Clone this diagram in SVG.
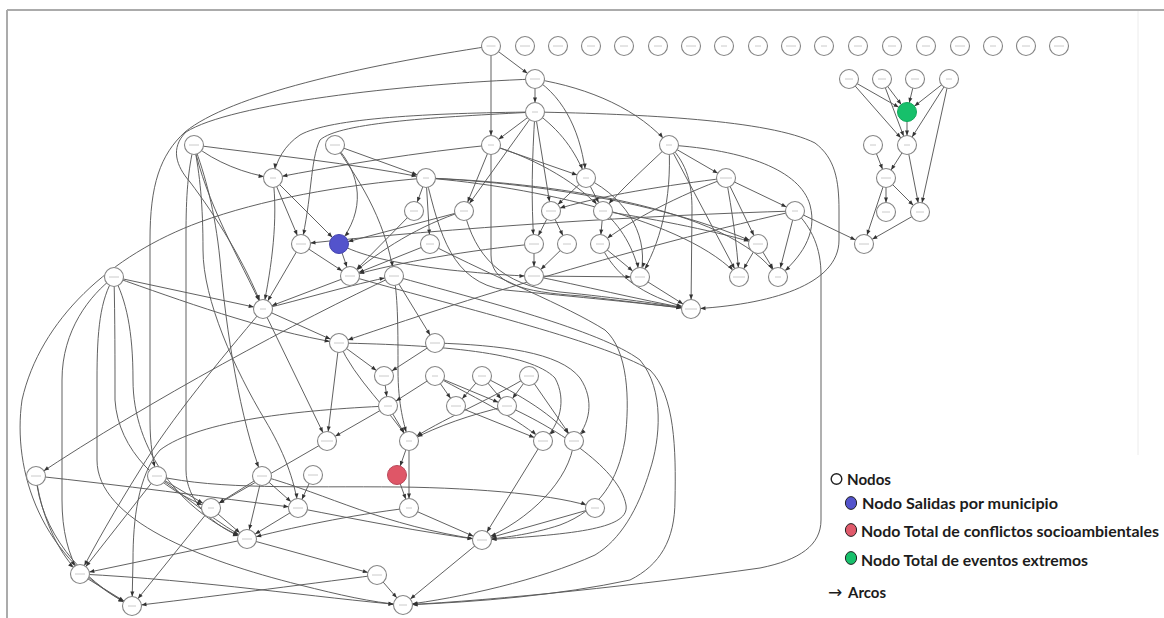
<svg xmlns="http://www.w3.org/2000/svg" width="1164" height="618" viewBox="0 0 1164 618">
<defs>
<style>
.e{fill:none;stroke:#585858;stroke-width:0.95;marker-end:url(#ah)}
.n circle{fill:#fff;stroke:#858585;stroke-width:1.1}
.n line{stroke:#c4c4c4;stroke-width:0.9}
.lg{font-family:Lato,'Liberation Sans',sans-serif;font-weight:700;font-size:15.5px;fill:#1c1c1c}
.frame{stroke:#ababab;stroke-width:2}
</style>
<marker id="ah" markerUnits="userSpaceOnUse" markerWidth="20" markerHeight="10" viewBox="0 -5 20 10" refX="19.5" refY="0" orient="auto">
<path d="M5,-2 L10,0 L5,2 Z" fill="#333"/>
</marker>
</defs>
<rect width="1164" height="618" fill="#fff"/>
<!-- frame -->
<line class="frame" x1="7" y1="10" x2="1164" y2="10"/>
<line class="frame" x1="7" y1="10" x2="7" y2="618"/>
<line x1="1138" y1="11" x2="1138" y2="455" stroke="#ececec" stroke-width="1"/>

<g id="edges">
<path class="e" d="M491,46 L535,79"/>
<path class="e" d="M491,46 L491,145"/>
<path class="e" d="M491,46 C360,66 230,95 185,132 C160,155 150,185 150,240 L150,420 C150,445 153,460 157,476"/>
<path class="e" d="M535,79 C400,84 230,104 186,132 C170,148 176,166 190,182 C215,215 245,262 263,309"/>
<path class="e" d="M535,79 L535,112"/>
<path class="e" d="M535,79 C590,88 640,110 669,145"/>
<path class="e" d="M535,79 C565,98 582,135 586,178"/>
<path class="e" d="M535,112 L491,145"/>
<path class="e" d="M535,112 C430,113 330,118 300,135 C285,145 276,160 273,178"/>
<path class="e" d="M535,112 C440,117 340,122 320,140 C310,160 312,200 301,244"/>
<path class="e" d="M535,112 C640,114 770,120 815,143 C835,158 839,180 839,210 L839,240 C839,285 770,305 691,309"/>
<path class="e" d="M535,112 L464,211"/>
<path class="e" d="M535,112 C532,160 531,200 534,244"/>
<path class="e" d="M535,112 L551,211"/>
<path class="e" d="M535,112 C560,130 575,150 586,178"/>
<path class="e" d="M491,145 C420,152 340,165 273,178"/>
<path class="e" d="M491,145 L586,178"/>
<path class="e" d="M491,145 C540,160 580,185 603,211"/>
<path class="e" d="M491,145 L464,211"/>
<path class="e" d="M491,145 L491,255 C491,283 520,292 582,296 L691,309"/>
<path class="e" d="M194,145 C270,155 350,163 426,178"/>
<path class="e" d="M194,145 C215,162 245,174 273,178"/>
<path class="e" d="M335,145 L426,178"/>
<path class="e" d="M335,145 C362,175 366,210 339,244"/>
<path class="e" d="M335,145 C355,175 385,215 394,276"/>
<path class="e" d="M426,178 L414,211"/>
<path class="e" d="M426,178 L430,244"/>
<path class="e" d="M426,178 C520,182 660,200 758,244"/>
<path class="e" d="M426,178 C530,186 690,220 739,277"/>
<path class="e" d="M426,178 C540,182 730,205 778,277"/>
<path class="e" d="M426,178 C340,185 260,200 200,222 C110,255 40,320 22,400 C12,470 40,560 132,606"/>
<path class="e" d="M669,145 L726,178"/>
<path class="e" d="M669,145 C745,150 800,170 810,205 C818,235 800,258 778,277"/>
<path class="e" d="M669,145 C645,168 620,190 603,211"/>
<path class="e" d="M669,145 C688,165 692,185 692,210 L691,309"/>
<path class="e" d="M669,145 L739,277"/>
<path class="e" d="M669,145 C672,200 660,245 640,277"/>
<path class="e" d="M726,178 L758,244"/>
<path class="e" d="M726,178 L795,211"/>
<path class="e" d="M726,178 C732,210 737,245 739,277"/>
<path class="e" d="M726,178 C670,185 600,195 551,211"/>
<path class="e" d="M726,178 C680,195 630,220 600,244"/>
<path class="e" d="M795,211 C650,215 450,228 301,244"/>
<path class="e" d="M795,211 C600,255 420,315 339,343"/>
<path class="e" d="M795,211 C812,228 821,248 821,275 L821,520 C821,545 800,560 760,568 C640,585 500,600 403,605"/>
<path class="e" d="M795,211 L778,277"/>
<path class="e" d="M795,211 L864,244"/>
<path class="e" d="M758,244 L739,277"/>
<path class="e" d="M758,244 L778,277"/>
<path class="e" d="M603,211 C660,220 720,232 758,244"/>
<path class="e" d="M603,211 L600,244"/>
<path class="e" d="M603,211 C625,230 636,255 640,277"/>
<path class="e" d="M600,244 L640,277"/>
<path class="e" d="M600,244 C615,275 640,295 691,309"/>
<path class="e" d="M640,277 L691,309"/>
<path class="e" d="M534,276 L640,277"/>
<path class="e" d="M586,178 L551,211"/>
<path class="e" d="M586,178 L603,211"/>
<path class="e" d="M586,178 C630,200 650,240 640,277"/>
<path class="e" d="M551,211 L534,244"/>
<path class="e" d="M551,211 L567,244"/>
<path class="e" d="M567,244 L534,276"/>
<path class="e" d="M534,244 L534,276"/>
<path class="e" d="M534,276 C580,285 640,300 691,309"/>
<path class="e" d="M426,178 C440,235 452,282 505,290 C580,297 640,303 691,309"/>
<path class="e" d="M464,211 C475,255 500,285 560,292 C620,298 660,304 691,309"/>
<path class="e" d="M464,211 L339,244"/>
<path class="e" d="M464,211 C420,225 380,250 350,276"/>
<path class="e" d="M430,244 L350,276"/>
<path class="e" d="M534,244 C470,250 400,262 350,276"/>
<path class="e" d="M414,211 L350,276"/>
<path class="e" d="M301,244 L350,276"/>
<path class="e" d="M339,244 L350,276"/>
<path class="e" d="M339,244 C360,255 390,263 450,270 C490,274 515,276 534,276"/>
<path class="e" d="M273,178 L301,244"/>
<path class="e" d="M273,178 L339,244"/>
<path class="e" d="M273,178 C278,220 272,265 263,309"/>
<path class="e" d="M301,244 L263,309"/>
<path class="e" d="M350,276 L263,309"/>
<path class="e" d="M194,145 C205,200 240,260 263,309"/>
<path class="e" d="M194,145 C188,170 186,195 186,235 L186,470 C186,500 212,527 247,539"/>
<path class="e" d="M194,145 C200,175 203,205 203,250 C203,300 235,370 265,420 C283,450 295,480 298,508"/>
<path class="e" d="M194,145 C205,175 215,210 220,260 C226,330 240,420 262,476"/>
<path class="e" d="M114,277 L263,309"/>
<path class="e" d="M114,277 C90,295 62,330 62,380 L62,500 C62,530 68,555 80,574"/>
<path class="e" d="M114,277 C100,300 97,330 97,380 L97,460 C97,520 200,560 300,585 C340,595 370,602 403,605"/>
<path class="e" d="M114,277 C115,320 115,360 115,400 C118,450 160,490 211,508"/>
<path class="e" d="M114,277 C126,300 133,330 133,380 C133,450 180,512 247,539"/>
<path class="e" d="M114,277 C180,300 260,330 339,343"/>
<path class="e" d="M394,276 C300,320 150,400 36,476"/>
<path class="e" d="M263,309 C220,360 170,420 140,470 C115,510 95,545 80,574"/>
<path class="e" d="M263,309 L339,343"/>
<path class="e" d="M263,309 C300,300 350,285 394,276"/>
<path class="e" d="M263,309 L327,441"/>
<path class="e" d="M394,276 L435,343"/>
<path class="e" d="M339,343 L384,376"/>
<path class="e" d="M435,343 L384,376"/>
<path class="e" d="M339,343 L327,441"/>
<path class="e" d="M339,343 C355,380 390,410 409,441"/>
<path class="e" d="M339,343 C440,345 530,352 555,378 C567,400 560,425 543,441"/>
<path class="e" d="M435,343 C500,345 560,352 580,378 C595,400 590,425 574,441"/>
<path class="e" d="M394,276 C398,300 398,330 398,370 C398,405 404,425 409,441"/>
<path class="e" d="M384,376 L388,406"/>
<path class="e" d="M435,376 L388,406"/>
<path class="e" d="M435,376 L456,406"/>
<path class="e" d="M435,376 L507,406"/>
<path class="e" d="M482,376 L456,406"/>
<path class="e" d="M482,376 L507,406"/>
<path class="e" d="M529,376 L507,406"/>
<path class="e" d="M529,376 L574,441"/>
<path class="e" d="M435,376 C480,400 520,420 543,441"/>
<path class="e" d="M482,376 C520,395 555,415 574,441"/>
<path class="e" d="M388,406 L327,441"/>
<path class="e" d="M388,406 L409,441"/>
<path class="e" d="M507,406 C470,415 440,425 409,441"/>
<path class="e" d="M529,376 C490,400 440,420 409,441"/>
<path class="e" d="M456,406 L543,441"/>
<path class="e" d="M409,441 L397,475"/>
<path class="e" d="M409,441 L409,508"/>
<path class="e" d="M397,475 L409,508"/>
<path class="e" d="M409,508 L482,540"/>
<path class="e" d="M409,508 C350,515 290,528 247,539"/>
<path class="e" d="M298,508 C360,520 420,532 482,540"/>
<path class="e" d="M313,475 L298,508"/>
<path class="e" d="M36,476 C120,485 210,497 298,508"/>
<path class="e" d="M157,476 C220,490 300,486 400,487 C480,488 560,495 595,508"/>
<path class="e" d="M262,476 C330,495 380,525 482,540"/>
<path class="e" d="M36,476 C40,510 55,550 80,574"/>
<path class="e" d="M36,476 C40,530 80,580 132,606"/>
<path class="e" d="M157,476 L80,574"/>
<path class="e" d="M157,476 L211,508"/>
<path class="e" d="M157,476 C190,500 220,525 247,539"/>
<path class="e" d="M388,406 C300,410 200,420 160,450 C138,475 133,520 133,560 L132,606"/>
<path class="e" d="M262,476 L211,508"/>
<path class="e" d="M262,476 L247,539"/>
<path class="e" d="M262,476 L298,508"/>
<path class="e" d="M211,508 L247,539"/>
<path class="e" d="M211,508 L132,606"/>
<path class="e" d="M247,539 L80,574"/>
<path class="e" d="M298,508 L247,539"/>
<path class="e" d="M80,574 L132,606"/>
<path class="e" d="M80,574 C200,580 320,598 403,605"/>
<path class="e" d="M247,539 L377,575"/>
<path class="e" d="M377,575 L403,605"/>
<path class="e" d="M377,575 C300,585 200,598 132,606"/>
<path class="e" d="M482,540 L403,605"/>
<path class="e" d="M595,508 L482,540"/>
<path class="e" d="M574,441 C570,480 530,520 482,540"/>
<path class="e" d="M543,441 L482,540"/>
<path class="e" d="M430,244 C500,280 565,305 605,330 C628,350 630,400 625,440 C618,480 600,510 560,525 C530,535 500,538 482,540"/>
<path class="e" d="M394,276 C480,300 600,330 640,360 C665,390 660,440 650,470 C638,510 620,540 595,555 C540,580 460,598 403,605"/>
<path class="e" d="M350,276 C450,305 600,340 650,370 C675,395 676,450 675,500 C675,540 660,565 630,580 C560,595 480,602 403,605"/>
<path class="e" d="M327,441 L211,508"/>
<path class="e" d="M507,406 C560,430 620,470 626,505 C630,528 580,534 482,540"/>
<!-- right cluster -->
<path class="e" d="M849,79 L907,112"/>
<path class="e" d="M849,79 L907,145"/>
<path class="e" d="M882,79 L907,112"/>
<path class="e" d="M882,79 L907,145"/>
<path class="e" d="M915,79 L907,112"/>
<path class="e" d="M949,79 L907,112"/>
<path class="e" d="M949,79 L907,145"/>
<path class="e" d="M949,79 L920,212"/>
<path class="e" d="M907,112 L907,145"/>
<path class="e" d="M873,145 L886,178"/>
<path class="e" d="M907,145 L886,178"/>
<path class="e" d="M907,145 L920,212"/>
<path class="e" d="M886,178 L886,212"/>
<path class="e" d="M886,178 L920,212"/>
<path class="e" d="M886,178 L864,244"/>
<path class="e" d="M920,212 L864,244"/>
</g>

<g id="nodes">
<g id="n-t00" class="n" transform="translate(491,46)"><circle r="9.5"/><line x1="-4.5" x2="4.5"/></g>
<g id="n-t01" class="n" transform="translate(525,46)"><circle r="9.5"/><line x1="-5" x2="5"/></g>
<g id="n-t02" class="n" transform="translate(558,46)"><circle r="9.5"/><line x1="-5" x2="5"/></g>
<g id="n-t03" class="n" transform="translate(591,46)"><circle r="9.5"/><line x1="-4" x2="4"/></g>
<g id="n-t04" class="n" transform="translate(624,46)"><circle r="9.5"/><line x1="-4" x2="4"/></g>
<g id="n-t05" class="n" transform="translate(658,46)"><circle r="9.5"/><line x1="-4" x2="4"/></g>
<g id="n-t06" class="n" transform="translate(691,46)"><circle r="9.5"/><line x1="-5" x2="5"/></g>
<g id="n-t07" class="n" transform="translate(724,46)"><circle r="9.5"/><line x1="-3" x2="3"/></g>
<g id="n-t08" class="n" transform="translate(758,46)"><circle r="9.5"/><line x1="-3" x2="3"/></g>
<g id="n-t09" class="n" transform="translate(791,46)"><circle r="9.5"/><line x1="-5" x2="5"/></g>
<g id="n-t10" class="n" transform="translate(824,46)"><circle r="9.5"/><line x1="-3" x2="3"/></g>
<g id="n-t11" class="n" transform="translate(858,46)"><circle r="9.5"/><line x1="-4" x2="4"/></g>
<g id="n-t12" class="n" transform="translate(892,46)"><circle r="9.5"/><line x1="-4" x2="4"/></g>
<g id="n-t13" class="n" transform="translate(926,46)"><circle r="9.5"/><line x1="-4" x2="4"/></g>
<g id="n-t14" class="n" transform="translate(960,46)"><circle r="9.5"/><line x1="-5" x2="5"/></g>
<g id="n-t15" class="n" transform="translate(993,46)"><circle r="9.5"/><line x1="-3" x2="3"/></g>
<g id="n-t16" class="n" transform="translate(1026,46)"><circle r="9.5"/><line x1="-4" x2="4"/></g>
<g id="n-t17" class="n" transform="translate(1059,46)"><circle r="9.5"/><line x1="-5" x2="5"/></g>

<g id="n-b1" class="n" transform="translate(535,79)"><circle r="9.5"/><line x1="-5" x2="5"/></g>
<g id="n-b2" class="n" transform="translate(535,112)"><circle r="9.5"/><line x1="-3" x2="3"/></g>
<g id="n-c1" class="n" transform="translate(491,145)"><circle r="9.5"/><line x1="-3" x2="3"/></g>
<g id="n-l1" class="n" transform="translate(194,145)"><circle r="9.5"/><line x1="-5" x2="5"/></g>
<g id="n-l2" class="n" transform="translate(273,178)"><circle r="9.5"/><line x1="-3" x2="3"/></g>
<g id="n-c2" class="n" transform="translate(335,145)"><circle r="9.5"/><line x1="-5" x2="5"/></g>
<g id="n-c3" class="n" transform="translate(426,178)"><circle r="9.5"/><line x1="-3" x2="3"/></g>
<g id="n-d1" class="n" transform="translate(669,145)"><circle r="9.5"/><line x1="-3" x2="3"/></g>
<g id="n-d2" class="n" transform="translate(726,178)"><circle r="9.5"/><line x1="-6" x2="6"/></g>
<g id="n-d3" class="n" transform="translate(586,178)"><circle r="9.5"/><line x1="-3" x2="3"/></g>
<g id="n-e1" class="n" transform="translate(414,211)"><circle r="9.5"/><line x1="-4" x2="4"/></g>
<g id="n-e2" class="n" transform="translate(464,211)"><circle r="9.5"/><line x1="-4" x2="4"/></g>
<g id="n-e3" class="n" transform="translate(551,211)"><circle r="9.5"/><line x1="-5" x2="5"/></g>
<g id="n-e4" class="n" transform="translate(603,211)"><circle r="9.5"/><line x1="-4" x2="4"/></g>
<g id="n-e5" class="n" transform="translate(795,211)"><circle r="9.5"/><line x1="-3" x2="3"/></g>
<g id="n-f1" class="n" transform="translate(301,244)"><circle r="9.5"/><line x1="-5" x2="5"/></g>
<g id="n-salidas" transform="translate(339,244)"><circle r="9.5" fill="#5353cc" stroke="#4444b0" stroke-width="1"/></g>
<g id="n-f2" class="n" transform="translate(430,244)"><circle r="9.5"/><line x1="-4" x2="4"/></g>
<g id="n-f3" class="n" transform="translate(534,244)"><circle r="9.5"/><line x1="-5" x2="5"/></g>
<g id="n-f4" class="n" transform="translate(567,244)"><circle r="9.5"/><line x1="-4" x2="4"/></g>
<g id="n-f5" class="n" transform="translate(600,244)"><circle r="9.5"/><line x1="-4" x2="4"/></g>
<g id="n-f6" class="n" transform="translate(758,244)"><circle r="9.5"/><line x1="-5" x2="5"/></g>
<g id="n-g1" class="n" transform="translate(350,276)"><circle r="9.5"/><line x1="-5" x2="5"/></g>
<g id="n-g2" class="n" transform="translate(394,276)"><circle r="9.5"/><line x1="-5" x2="5"/></g>
<g id="n-g3" class="n" transform="translate(534,276)"><circle r="9.5"/><line x1="-6" x2="6"/></g>
<g id="n-g4" class="n" transform="translate(640,277)"><circle r="9.5"/><line x1="-5" x2="5"/></g>
<g id="n-g5" class="n" transform="translate(739,277)"><circle r="9.5"/><line x1="-6" x2="6"/></g>
<g id="n-g6" class="n" transform="translate(778,277)"><circle r="9.5"/><line x1="-3" x2="3"/></g>
<g id="n-h1" class="n" transform="translate(691,309)"><circle r="9.5"/><line x1="-6" x2="6"/></g>
<g id="n-l3" class="n" transform="translate(114,277)"><circle r="9.5"/><line x1="-5" x2="5"/></g>
<g id="n-l4" class="n" transform="translate(263,309)"><circle r="9.5"/><line x1="-3" x2="3"/></g>
<g id="n-i1" class="n" transform="translate(339,343)"><circle r="9.5"/><line x1="-5" x2="5"/></g>
<g id="n-i2" class="n" transform="translate(435,343)"><circle r="9.5"/><line x1="-5" x2="5"/></g>
<g id="n-j1" class="n" transform="translate(384,376)"><circle r="9.5"/><line x1="-5" x2="5"/></g>
<g id="n-j2" class="n" transform="translate(435,376)"><circle r="9.5"/><line x1="-3" x2="3"/></g>
<g id="n-j3" class="n" transform="translate(482,376)"><circle r="9.5"/><line x1="-4" x2="4"/></g>
<g id="n-j4" class="n" transform="translate(529,376)"><circle r="9.5"/><line x1="-5" x2="5"/></g>
<g id="n-k1" class="n" transform="translate(388,406)"><circle r="9.5"/><line x1="-4" x2="4"/></g>
<g id="n-k2" class="n" transform="translate(456,406)"><circle r="9.5"/><line x1="-5" x2="5"/></g>
<g id="n-k3" class="n" transform="translate(507,406)"><circle r="9.5"/><line x1="-5" x2="5"/></g>
<g id="n-m1" class="n" transform="translate(327,441)"><circle r="9.5"/><line x1="-6" x2="6"/></g>
<g id="n-m2" class="n" transform="translate(409,441)"><circle r="9.5"/><line x1="-3" x2="3"/></g>
<g id="n-m3" class="n" transform="translate(543,441)"><circle r="9.5"/><line x1="-5" x2="5"/></g>
<g id="n-m4" class="n" transform="translate(574,441)"><circle r="9.5"/><line x1="-5" x2="5"/></g>
<g id="n-conflictos" transform="translate(397,475)"><circle r="9.5" fill="#df5667" stroke="#b9485a" stroke-width="1"/></g>
<g id="n-p1" class="n" transform="translate(36,476)"><circle r="9.5"/><line x1="-5" x2="5"/></g>
<g id="n-p2" class="n" transform="translate(157,476)"><circle r="9.5"/><line x1="-5" x2="5"/></g>
<g id="n-p3" class="n" transform="translate(262,476)"><circle r="9.5"/><line x1="-5" x2="5"/></g>
<g id="n-p4" class="n" transform="translate(313,475)"><circle r="9.5"/><line x1="-5" x2="5"/></g>
<g id="n-q1" class="n" transform="translate(211,508)"><circle r="9.5"/><line x1="-3" x2="3"/></g>
<g id="n-q2" class="n" transform="translate(298,508)"><circle r="9.5"/><line x1="-5" x2="5"/></g>
<g id="n-q3" class="n" transform="translate(409,508)"><circle r="9.5"/><line x1="-3" x2="3"/></g>
<g id="n-q4" class="n" transform="translate(595,508)"><circle r="9.5"/><line x1="-4" x2="4"/></g>
<g id="n-r1" class="n" transform="translate(247,539)"><circle r="9.5"/><line x1="-5" x2="5"/></g>
<g id="n-r2" class="n" transform="translate(482,540)"><circle r="9.5"/><line x1="-5" x2="5"/></g>
<g id="n-s1" class="n" transform="translate(80,574)"><circle r="9.5"/><line x1="-5" x2="5"/></g>
<g id="n-s2" class="n" transform="translate(377,575)"><circle r="9.5"/><line x1="-5" x2="5"/></g>
<g id="n-u1" class="n" transform="translate(132,606)"><circle r="9.5"/><line x1="-4" x2="4"/></g>
<g id="n-u2" class="n" transform="translate(403,605)"><circle r="9.5"/><line x1="-4" x2="4"/></g>

<g id="n-x1" class="n" transform="translate(849,79)"><circle r="9.5"/><line x1="-4" x2="4"/></g>
<g id="n-x2" class="n" transform="translate(882,79)"><circle r="9.5"/><line x1="-4" x2="4"/></g>
<g id="n-x3" class="n" transform="translate(915,79)"><circle r="9.5"/><line x1="-4" x2="4"/></g>
<g id="n-x4" class="n" transform="translate(949,79)"><circle r="9.5"/><line x1="-3" x2="3"/></g>
<g id="n-eventos" transform="translate(907,112)"><circle r="9.5" fill="#17c06b" stroke="#12a85c" stroke-width="1"/></g>
<g id="n-x5" class="n" transform="translate(873,145)"><circle r="9.5"/><line x1="-3" x2="3"/></g>
<g id="n-x6" class="n" transform="translate(907,145)"><circle r="9.5"/><line x1="-3" x2="3"/></g>
<g id="n-x7" class="n" transform="translate(886,178)"><circle r="9.5"/><line x1="-5" x2="5"/></g>
<g id="n-x8" class="n" transform="translate(886,212)"><circle r="9.5"/><line x1="-4" x2="4"/></g>
<g id="n-x9" class="n" transform="translate(920,212)"><circle r="9.5"/><line x1="-4" x2="4"/></g>
<g id="n-x10" class="n" transform="translate(864,244)"><circle r="9.5"/><line x1="-5" x2="5"/></g>
</g>

<g id="legend">
<circle cx="836.5" cy="479" r="5.3" fill="none" stroke="#222" stroke-width="1.4"/>
<text class="lg" x="847" y="485" textLength="44" lengthAdjust="spacingAndGlyphs">Nodos</text>
<ellipse cx="851" cy="503" rx="5.6" ry="6.4" fill="#5353cc" stroke="#222" stroke-width="1"/>
<text class="lg" x="862" y="509" textLength="196" lengthAdjust="spacingAndGlyphs">Nodo Salidas por municipio</text>
<ellipse cx="851" cy="530" rx="5.6" ry="6.4" fill="#e05a6b" stroke="#222" stroke-width="1"/>
<text class="lg" x="861" y="537" textLength="298" lengthAdjust="spacingAndGlyphs">Nodo Total de conflictos socioambientales</text>
<ellipse cx="851" cy="558" rx="5.6" ry="6.4" fill="#17c06b" stroke="#222" stroke-width="1"/>
<text class="lg" x="861" y="566" textLength="227" lengthAdjust="spacingAndGlyphs">Nodo Total de eventos extremos</text>
<text x="828" y="598" font-family="'DejaVu Sans',sans-serif" font-size="17" fill="#1c1c1c">→</text>
<text class="lg" x="848" y="598" textLength="38" lengthAdjust="spacingAndGlyphs">Arcos</text>
</g>
</svg>
